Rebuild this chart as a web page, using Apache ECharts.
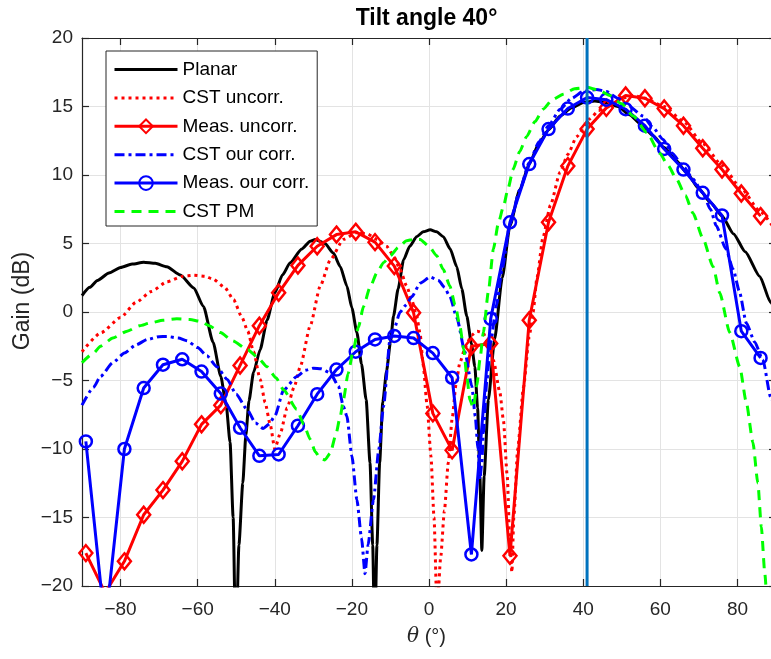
<!DOCTYPE html>
<html><head><meta charset="utf-8">
<script src="https://cdn.jsdelivr.net/npm/echarts@6/dist/echarts.min.js"></script>
<style>html,body{margin:0;padding:0;overflow:hidden;background:#fff}#c{width:780px;height:659px}</style>
</head><body><div id="c"></div>
<script>
// ---------- data ----------
const xTicks = [-80, -60, -40, -20, 0, 20, 40, 60, 80];
const seriesNames = ['Planar', 'CST uncorr.', 'Meas. uncorr.', 'CST our corr.', 'Meas. our corr.', 'CST PM'];
const steerAngle = 41;

const planar = [[-90,1.2],[-88,1.8],[-86,2.3],[-83,2.85],[-80,3.25],[-77,3.5],[-74,3.63],[-71,3.55],[-68,3.3],[-64.5,2.7],[-61,1.76],[-58.5,0.4],[-56,-2.2],[-54,-4.7],[-52.6,-6.8],[-51.6,-9.5],[-50.8,-15],[-50.1,-25],[-49.3,-17],[-48.3,-12.5],[-47.5,-9],[-46.7,-6.5],[-45.5,-4.4],[-43.8,-2.75],[-42,-0.6],[-40,1.4],[-38,2.7],[-36,3.6],[-33,4.6],[-30.8,5.17],[-29.5,5.3],[-27,5.0],[-24.8,4.3],[-23,3.3],[-21.3,1.9],[-20,0.3],[-18.7,-1.5],[-17.5,-3.8],[-16.3,-6.4],[-15.3,-11],[-14.6,-17],[-14.1,-24],[-13.5,-17],[-12.8,-11],[-12,-6.6],[-11,-4.3],[-10,-2.2],[-9.2,-0.3],[-8,1.7],[-6.6,3.8],[-5,4.8],[-3.2,5.5],[-1.5,5.85],[0.3,6.0],[2,5.85],[3.7,5.5],[5.5,4.6],[7.2,3.3],[8.5,1.7],[9.8,-0.3],[11,-2.3],[11.9,-4.0],[12.6,-7],[13.2,-12],[13.7,-17.4],[14.3,-12],[15.4,-6.4],[17,-2.0],[19,2.5],[21,6.3],[23.5,8.9],[26,10.8],[28.5,12.3],[31,13.3],[34,14.3],[37,14.9],[40,15.3],[43,15.4],[46,15.3],[49,15.0],[52,14.4],[55,13.7],[58,12.9],[61,12.0],[64,11.1],[67,10.1],[70,9.0],[73,8.0],[76,7.0],[79,5.7],[82,4.4],[85.8,2.6],[88.6,0.7],[90,-0.2]];

const cstUncorr = [[-90,-2.9],[-85,-1.5],[-80,-0.4],[-76,0.7],[-72,1.5],[-68,2.2],[-64,2.6],[-61,2.68],[-58,2.6],[-56,2.4],[-53,1.8],[-50.7,0.9],[-48.5,-0.4],[-47,-1.4],[-45.5,-2.9],[-43.8,-4.9],[-42.5,-6.6],[-41.2,-8.2],[-40,-10],[-38.5,-8.8],[-36.8,-7],[-35,-5.5],[-33.4,-4.0],[-30.8,-1.0],[-28.2,1.9],[-25.6,3.8],[-22.2,5.3],[-18.7,5.8],[-16,5.7],[-13.5,5.3],[-11,4.8],[-9.2,4.1],[-7.5,3.1],[-5.8,1.9],[-4.5,0.9],[-3.2,-0.3],[-2.3,-1.6],[-1.5,-3.9],[-0.5,-6.8],[0.5,-10.5],[1.3,-15],[2.1,-22],[3,-18],[4,-14.5],[5,-11],[6,-7.8],[7,-5.3],[8,-3.7],[9.5,-2.5],[11,-1.7],[12.5,-1.4],[14,-1.5],[15.5,-2.4],[16.7,-3.5],[18.4,-5.9],[19.3,-7.9],[20.3,-12],[21,-17],[21.5,-19],[22,-15],[23,-10],[24.5,-5.5],[26,-1.8],[27,0],[28,2.5],[29.6,5.5],[31.5,7.8],[34,10.2],[36,11.5],[38.3,12.8],[41.7,14.1],[44,14.7],[46.9,15.2],[50,15.6],[53,15.8],[56,15.6],[61,15.0],[66,13.9],[71,12.3],[76,10.7],[81,9.0],[86,7.3],[90,5.9]];

const measAngles = [-89,-84,-79,-74,-69,-64,-59,-54,-49,-44,-39,-34,-29,-24,-19,-14,-9,-4,1,6,11,16,21,26,31,36,41,46,51,56,61,66,71,76,81,86];
const measUncorr = [-17.6,-20.5,-18.2,-14.8,-13.0,-10.9,-8.2,-6.8,-3.9,-1.0,1.4,3.4,4.8,5.65,5.85,5.1,3.35,-0.05,-7.4,-10.1,-2.5,-2.3,-17.8,-0.6,6.55,10.65,13.35,14.9,15.8,15.6,14.85,13.6,11.95,10.4,8.65,7.0];
const measCorr = [-9.45,-23,-10.0,-5.55,-3.85,-3.45,-4.35,-5.95,-8.45,-10.5,-10.4,-8.3,-6.0,-4.2,-2.9,-2.0,-1.75,-1.9,-3.0,-4.8,-17.7,-0.5,6.55,10.8,13.35,14.85,15.65,15.5,14.8,13.6,11.9,10.4,8.7,7.05,-1.4,-3.35];

const cstOurCorr = [[-90,-6.8],[-87,-5.5],[-85.2,-4.7],[-82,-3.7],[-79,-3.0],[-76,-2.4],[-73,-2.0],[-70,-1.8],[-68,-1.78],[-65,-1.9],[-62.8,-2.1],[-60,-2.6],[-57.6,-3.2],[-55,-4.0],[-52.4,-4.9],[-50,-6.0],[-47.2,-7.1],[-45,-8.1],[-43,-8.5],[-41.5,-8.2],[-40,-7.6],[-37.7,-5.7],[-34.3,-4.7],[-32,-4.25],[-30,-4.1],[-28,-4.15],[-25.6,-4.45],[-23.5,-5.4],[-22.2,-6.9],[-21.3,-7.6],[-20,-10.5],[-18.7,-13.7],[-17.5,-16.5],[-16.6,-19.1],[-15.8,-17],[-14.4,-13.7],[-13,-10],[-11.8,-6.9],[-10.1,-2.0],[-9,-1.2],[-7.5,0.0],[-6,0.5],[-4.5,1.1],[-2.3,2.1],[0.3,2.55],[2.5,2.3],[4,1.8],[5.4,1.15],[7.2,-0.4],[9.3,-2.9],[11.1,-5.4],[12,-7.6],[12.7,-10],[13.2,-12.2],[13.7,-11],[14.1,-8.8],[15,-5],[16,-2.2],[17.5,0.5],[19,3.2],[21,6.4],[23.5,8.9],[26,10.9],[28.5,12.4],[31,13.6],[34,14.8],[37,15.6],[40,16.1],[43.4,16.25],[46,16.1],[49,15.6],[52,15.0],[55.5,14.3],[58,13.5],[60.7,12.6],[63,11.6],[65.9,10.65],[68.5,9.7],[71,8.7],[73,7.5],[74.5,6.3],[77,4.6],[78.9,3.1],[80.5,1.5],[82.3,-0.8],[84.5,-2.2],[86.6,-3.5],[88.6,-6.2],[90,-7.3]];

const cstPM = [[-90,-3.7],[-87,-3.0],[-85.2,-2.5],[-82,-1.9],[-78.3,-1.4],[-75,-1.0],[-72.3,-0.8],[-69,-0.6],[-65.4,-0.5],[-62,-0.55],[-59.3,-0.68],[-57,-1.0],[-54.1,-1.5],[-51,-2.1],[-47,-2.75],[-44.5,-3.3],[-42,-4.0],[-39.7,-4.8],[-37.7,-5.7],[-34.3,-7.1],[-32.5,-8.2],[-30.8,-9.3],[-29.5,-10.2],[-28.2,-10.7],[-27,-10.8],[-25.6,-10.3],[-24.2,-9.0],[-23,-7.6],[-22.2,-6.4],[-21,-4.5],[-19.6,-2.75],[-18.3,-1.1],[-17,0.4],[-15.3,1.8],[-13.5,2.86],[-11.8,3.6],[-10.1,4.1],[-8,4.7],[-5.8,5.2],[-4,5.3],[-2.3,5.3],[0,4.8],[2,4.1],[3.7,3.1],[5.4,1.9],[6.8,0.5],[8,-1.0],[9,-2.7],[9.8,-4.7],[10.6,-6.4],[11.5,-7.0],[12.4,-5.4],[13.2,-3.5],[14.1,-1.5],[15.4,1.5],[16.7,4.6],[18,6.5],[19.3,7.7],[20.5,9.0],[21.8,10.4],[23.5,11.7],[25.3,12.8],[27.5,13.9],[29.6,14.8],[32,15.5],[34.8,15.9],[37.8,16.3],[40.9,16.4],[44,16.2],[46.9,15.8],[50,15.2],[53,14.3],[56.5,13.1],[59.8,11.6],[62,10.7],[64.2,9.7],[66.5,8.5],[68.5,7.2],[71,5.4],[73.7,3.3],[75.4,1.4],[78,-1.5],[80.6,-4.0],[82.3,-6.6],[84,-9.5],[85.3,-12.5],[86.2,-15.7],[87.1,-19.1],[88,-22.5],[90,-28]];

// ---------- chart ----------
const FONT = '"Liberation Sans", Arial, Helvetica, sans-serif';
const fmt = v => (v < 0 ? '\u2212' + Math.abs(v) : String(v));
const pair = (xs, ys) => xs.map((x, i) => [x, ys[i]]);
const noMark = { color: 'rgba(0,0,0,0)', borderWidth: 0 };

const chart = echarts.init(document.getElementById('c'), null, { renderer: 'canvas' });
const axisLine = { show: true, onZero: false, lineStyle: { color: '#262626', width: 1.2 } };
const tick = { show: true, inside: true, length: 7, lineStyle: { color: '#262626', width: 1.2 } };

chart.setOption({
  animation: false,
  backgroundColor: '#fff',
  grid: { left: 82, right: 4, top: 38, bottom: 73, containLabel: false },
  graphic: [
    { type: 'text', x: 426.5, y: 19, style: { text: 'Tilt angle 40°', fill: '#000', font: 'bold 23px ' + FONT, align: 'center', verticalAlign: 'middle' } },
    { type: 'text', x: 23, y: 301, rotation: Math.PI / 2, style: { text: 'Gain (dB)', fill: '#262626', font: '23px ' + FONT, align: 'center', verticalAlign: 'middle' } },
    { type: 'text', x: 426.5, y: 637, style: { text: '{i|θ} (°)', fill: '#262626', font: '20px ' + FONT, align: 'center', verticalAlign: 'middle',
        rich: { i: { fontStyle: 'italic', fontSize: 20, fontFamily: 'DejaVu Serif, serif', fill: '#262626' } } } }
  ],
  xAxis: [
    { type: 'value', min: -90, max: 90, position: 'bottom', axisLine,
      axisTick: Object.assign({ customValues: xTicks }, tick),
      axisLabel: { customValues: xTicks, formatter: fmt, color: '#262626', fontSize: 19, fontFamily: FONT, margin: 14 },
      splitLine: { show: true, lineStyle: { color: '#e3e3e3', width: 1 } } },
    { type: 'value', min: -90, max: 90, position: 'top', axisLine,
      axisTick: Object.assign({ customValues: xTicks }, tick),
      axisLabel: { show: false }, splitLine: { show: false } }
  ],
  yAxis: [
    { type: 'value', min: -20, max: 20, interval: 5, position: 'left', axisLine, axisTick: tick,
      axisLabel: { formatter: fmt, color: '#262626', fontSize: 19, fontFamily: FONT, margin: 9 },
      splitLine: { show: true, lineStyle: { color: '#e3e3e3', width: 1 } } },
    { type: 'value', min: -20, max: 20, interval: 5, position: 'right', axisLine, axisTick: tick,
      axisLabel: { show: false }, splitLine: { show: false } }
  ],
  legend: {
    data: seriesNames, orient: 'vertical', left: 106, top: 51,
    itemWidth: 63, itemHeight: 17, itemGap: 9.4, padding: [9, 8, 5, 7],
    borderColor: '#262626', borderWidth: 1, backgroundColor: '#fff', borderRadius: 0,
    textStyle: { fontSize: 19, fontFamily: FONT, color: '#000', lineHeight: 17 },
    lineStyle: { width: 3 }, selectedMode: false
  },
  series: [
    { name: seriesNames[0], type: 'line', data: planar, symbol: 'none', smooth: 0.2, smoothMonotone: 'x',
      lineStyle: { color: '#000000', width: 3 }, itemStyle: noMark, z: 2 },
    { name: seriesNames[1], type: 'line', data: cstUncorr, symbol: 'none', smooth: 0.2, smoothMonotone: 'x',
      lineStyle: { color: '#ff0000', width: 3, type: [3, 4] }, itemStyle: noMark, z: 3 },
    { name: seriesNames[2], type: 'line', data: pair(measAngles, measUncorr), symbol: 'diamond', symbolSize: [13, 16], showAllSymbol: true,
      lineStyle: { color: '#ff0000', width: 3 }, itemStyle: { color: 'rgba(255,0,0,0)', borderColor: '#ff0000', borderWidth: 2.5 }, z: 4 },
    { name: seriesNames[3], type: 'line', data: cstOurCorr, symbol: 'none', smooth: 0.2, smoothMonotone: 'x',
      lineStyle: { color: '#0000ff', width: 3, type: [10, 4, 3, 4] }, itemStyle: noMark, z: 5 },
    { name: seriesNames[4], type: 'line', data: pair(measAngles, measCorr), symbol: 'circle', symbolSize: 12, showAllSymbol: true,
      lineStyle: { color: '#0000ff', width: 3 }, itemStyle: { color: 'rgba(0,0,255,0)', borderColor: '#0000ff', borderWidth: 2.5 }, z: 6 },
    { name: seriesNames[5], type: 'line', data: cstPM, symbol: 'none', smooth: 0.2, smoothMonotone: 'x',
      lineStyle: { color: '#00ff00', width: 3, type: [10, 7] }, itemStyle: noMark, z: 7 },
    { name: 'steer', type: 'line', data: [[steerAngle, -20], [steerAngle, 20]], symbol: 'none',
      lineStyle: { color: '#0072bd', width: 3 }, itemStyle: noMark, z: 8, silent: true }
  ]
});
</script></body></html>
